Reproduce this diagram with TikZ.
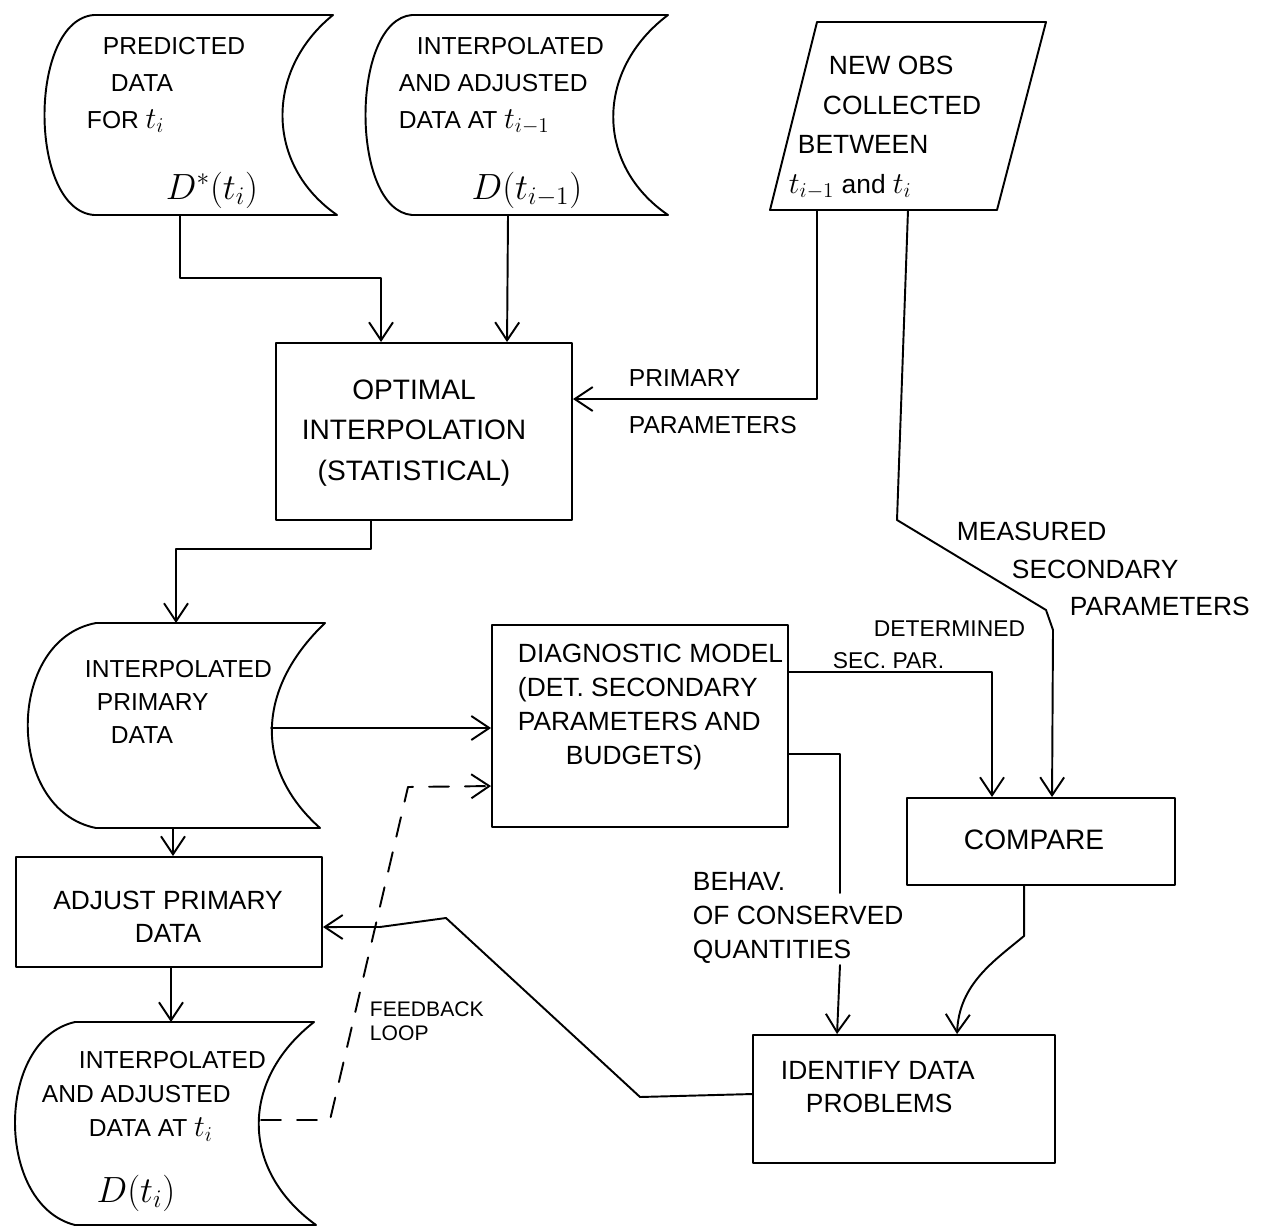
\documentclass[tikz,border=0pt]{standalone}
\usepackage{fontspec}
\setmainfont{Liberation Sans}
\usetikzlibrary{arrows.meta}
\newcommand{\bigt}[1]{{\fontsize{18}{18}\selectfont $#1$}}
\begin{document}
\begin{tikzpicture}[x=0.2mm,y=-0.2mm, line width=1.1pt, line join=round, line cap=round,
  arr/.style={-{Straight Barb[length=3.6mm,width=4.8mm,line width=1.1pt]}},
  box/.style={draw, rectangle, inner sep=0pt},
  lbl/.style={inner sep=0pt, align=left, anchor=west},
  clbl/.style={inner sep=0pt, align=center},
]
\useasboundingbox (0,0) rectangle (1278,1229);

% ---------- stored-data shapes and the input parallelogram ----------
\draw (94,15) -- (333,15) .. controls (265,70) and (265,165) .. (337,215)
      -- (94,215) .. controls (28,210) and (28,20) .. (94,15) -- cycle;
\coordinate (predOut) at (180,215);
\node[lbl, font=\fontsize{14}{21}\selectfont] (predT) at (86,85)
  {\hspace*{3.2mm}PREDICTED\\\hspace*{4.8mm}DATA\\FOR \bigt{t_i}};
\node[clbl, font=\fontsize{20}{24}\selectfont] (predD) at (212,190) {$D^{*}(t_i)$};

\draw (412,15) -- (668,15) .. controls (595,70) and (595,165) .. (668,215)
      -- (412,215) .. controls (350,210) and (350,20) .. (412,15) -- cycle;
\coordinate (prevOut) at (508,215);
\node[lbl, font=\fontsize{14}{21}\selectfont] (prevT) at (398,86)
  {\hspace*{3.6mm}INTERPOLATED\\AND ADJUSTED\\DATA AT \bigt{t_{i-1}}};
\node[clbl, font=\fontsize{20}{24}\selectfont] (prevD) at (527,190) {$D(t_{i-1})$};

\draw (817,22) -- (1046,22) -- (997,210) -- (770,210) -- cycle;
\coordinate (obsP) at (817,210);
\coordinate (obsS) at (908,210);
\node[lbl, font=\fontsize{15}{22.5}\selectfont] (obsT) at (788,128)
  {\hspace*{8mm}NEW OBS\\\hspace*{6.8mm}COLLECTED\\\hspace*{1.8mm}BETWEEN\\\bigt{t_{i-1}} and \bigt{t_i}};

\draw (96,623) -- (325,623) .. controls (255,690) and (255,770) .. (320,828)
      -- (96,828) .. controls (5,810) and (5,640) .. (96,623) -- cycle;
\coordinate (ipTop) at (176,623);
\coordinate (ipRight) at (271,728);
\coordinate (ipBot) at (173,828);
\node[lbl, font=\fontsize{14}{19}\selectfont] (ipT) at (84,702)
  {INTERPOLATED\\\hspace*{2.4mm}PRIMARY\\\hspace*{5.2mm}DATA};

\draw (75,1022) -- (314,1022) .. controls (240,1080) and (240,1170) .. (316,1225)
      -- (75,1225) .. controls (-5,1205) and (-5,1040) .. (75,1022) -- cycle;
\coordinate (iaTop) at (171,1022);
\coordinate (iaRight) at (261,1120);
\node[lbl, font=\fontsize{14}{19.5}\selectfont] (iaT) at (41,1096)
  {\hspace*{7.4mm}INTERPOLATED\\AND ADJUSTED\\\hspace*{9.4mm}DATA AT \bigt{t_i}};
\node[clbl, font=\fontsize{20}{24}\selectfont] (iaD) at (136,1193) {$D(t_i)$};

% ---------- process boxes ----------
\node[box, minimum width=59.2mm, minimum height=35.4mm] (opt) at (424,431.5) {};
\node[clbl, font=\fontsize{16}{23}\selectfont] (optT) at (414,433)
  {OPTIMAL\\INTERPOLATION\\(STATISTICAL)};

\node[box, minimum width=59.2mm, minimum height=40.4mm] (diag) at (640,726) {};
\node[lbl, font=\fontsize{15}{19.3}\selectfont] (diagT) at (517,707)
  {DIAGNOSTIC MODEL\\(DET. SECONDARY\\PARAMETERS AND\\\hspace*{9.6mm}BUDGETS)};

\node[box, minimum width=53.6mm, minimum height=17.4mm] (cmp) at (1041,841.5) {};
\node[clbl, font=\fontsize{16}{20}\selectfont] (cmpT) at (1034,840) {COMPARE};

\node[box, minimum width=60.4mm, minimum height=25.6mm] (idt) at (904,1099) {};
\node[lbl, font=\fontsize{15}{18.7}\selectfont] (idtT) at (780,1087)
  {IDENTIFY DATA\\\hspace*{5mm}PROBLEMS};

\node[box, minimum width=61.2mm, minimum height=22mm] (adj) at (169,912) {};
\node[clbl, font=\fontsize{15}{18.7}\selectfont] (adjT) at (168,917)
  {ADJUST PRIMARY\\DATA};

% ---------- connector labels ----------
\node[lbl, font=\fontsize{14}{26.6}\selectfont] (primL) at (628,402)
  {PRIMARY\\PARAMETERS};
\node[lbl, font=\fontsize{15}{21.5}\selectfont] (measL) at (956,569)
  {MEASURED\\\hspace*{11mm}SECONDARY\\\hspace*{22.6mm}PARAMETERS};
\node[lbl, font=\fontsize{13}{18}\selectfont] (detL) at (832,645)
  {\hspace*{8.2mm}DETERMINED\\SEC. PAR.};
\node[lbl, font=\fontsize{15}{19.5}\selectfont] (behL) at (692,918)
  {BEHAV.\\OF CONSERVED\\QUANTITIES};
\node[lbl, font=\fontsize{12}{13.5}\selectfont] (fbL) at (369,1021)
  {FEEDBACK\\LOOP};

% ---------- connectors ----------
\draw[arr] (predOut) -- ++(0,63) -| ([xshift=21.2mm]opt.north west);
\draw[arr] (prevOut) -- ([xshift=46.4mm]opt.north west);
\draw[arr] (obsP) |- ([yshift=-11.4mm]opt.north east);
\draw[arr] (obsS) -- (897,520) -- (1046,610) -- (1053,630) -- ([xshift=29.2mm]cmp.north west);
\draw[arr] ([xshift=19.2mm]opt.south west) -- ++(0,28) -| (ipTop);
\draw[arr] (ipRight) -- (ipRight -| diag.west);
\draw[arr] (ipBot) -- (ipBot |- adj.north);
\draw[arr] ([yshift=-9.6mm]diag.north east) -| ([xshift=17.2mm]cmp.north west);
\coordinate (behA) at (840,893);
\coordinate (behB) at (840,965);
\draw ([yshift=-26mm]diag.north east) -| (behA);
\draw[arr] (behB) -- ([xshift=17mm]idt.north west);
\draw[arr] ([xshift=23.6mm]cmp.south west) -- ++(0,50)
      .. controls +(-30,25) and +(2,-50) .. ([xshift=41mm]idt.north west);
\draw[arr] ([yshift=-12mm]idt.north west) -- (640,1097) -- (446,918) -- (380,927)
      -- ([yshift=-14.2mm]adj.north east);
\draw[arr] (iaTop |- adj.south) -- (iaTop);
\draw[arr, dash pattern=on 4mm off 3.2mm] (iaRight) -- (330,1120) -- (408,787)
      -- ([yshift=-32.4mm]diag.north west);
\end{tikzpicture}
\end{document}
